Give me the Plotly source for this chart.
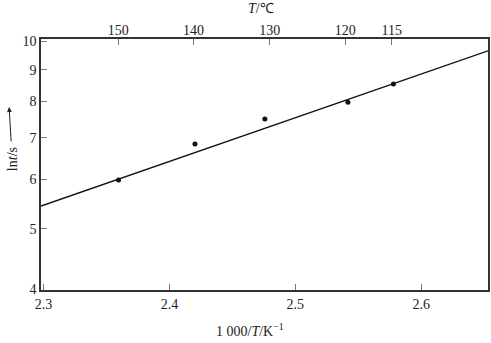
import math
import plotly.graph_objects as go

# Data
x_pts = [2.3596, 2.4203, 2.4758, 2.5417, 2.5779]   # 1000/T (K^-1)
y_pts = [5.99, 6.84, 7.50, 7.98, 8.54]             # t/s (log axis, labelled ln t)
fit_x = [2.298, 2.653]
fit_y = [5.44, 9.65]

bottom_ticks = [2.3, 2.4, 2.5, 2.6]
bottom_labels = ["2.3", "2.4", "2.5", "2.6"]
left_ticks = [4, 5, 6, 7, 8, 9, 10]
left_labels = ["4", "5", "6", "7", "8", "9", "10"]
top_tick_vals = [2.3594, 2.4192, 2.4797, 2.5396, 2.5766]
top_tick_labels = ["150", "140", "130", "120", "115"]

W, H = 491, 343
ML, MR, MT, MB = 41, 1, 39, 53
PW, PH = W - ML - MR, H - MT - MB

def px(xp):
    return (xp - ML) / PW

def py(yp):
    return (H - MB - yp) / PH

FONT = "Times New Roman, Liberation Serif, serif"
xr = [2.298, 2.653]

fig = go.Figure()
fig.add_trace(go.Scatter(x=fit_x, y=fit_y, mode="lines",
                         line=dict(color="#111", width=1.4), showlegend=False,
                         cliponaxis=True))
fig.add_trace(go.Scatter(x=x_pts, y=y_pts, mode="markers",
                         marker=dict(color="#111", size=5), showlegend=False))
# dummy trace for top axis
fig.add_trace(go.Scatter(x=xr, y=[5, 5], xaxis="x2", mode="lines",
                         line=dict(width=0), showlegend=False, hoverinfo="skip"))

axis_common = dict(showgrid=False, zeroline=False, ticks="inside", ticklen=6,
                   tickcolor="#777", tickwidth=1,
                   tickfont=dict(family=FONT, size=14, color="#222"))

fig.update_layout(
    width=W, height=H,
    margin=dict(l=ML, r=MR, t=MT, b=MB),
    paper_bgcolor="white", plot_bgcolor="white",
    font=dict(family=FONT, size=14, color="#222"),
    xaxis=dict(range=xr, tickvals=bottom_ticks, ticktext=bottom_labels,
               showline=True, linecolor="#333", linewidth=1.5, mirror=True,
               **axis_common),
    xaxis2=dict(range=xr, overlaying="x", side="top", anchor="y",
                tickvals=top_tick_vals, ticktext=top_tick_labels,
                showline=False, **axis_common),
    yaxis=dict(type="log", range=[math.log10(3.99), math.log10(10.08)],
               tickvals=left_ticks, ticktext=left_labels,
               showline=True, linecolor="#333", linewidth=1.5, mirror=True,
               **axis_common),
    annotations=[
        dict(text="1 000/<i>T</i>/K<sup>−1</sup>", xref="paper", yref="paper",
             x=px(251), y=py(330), showarrow=False, xanchor="center", yanchor="middle",
             font=dict(family=FONT, size=14, color="#222")),
        dict(text="<i>T</i>/℃", xref="paper", yref="paper",
             x=px(262), y=py(8), showarrow=False, xanchor="center", yanchor="middle",
             font=dict(family=FONT, size=14, color="#222")),
        dict(text="ln<i>t</i>/s", xref="paper", yref="paper", textangle=-90,
             x=px(9), y=py(107), showarrow=True, ax=3, ay=52,
             arrowhead=2, arrowsize=1, arrowwidth=1, arrowcolor="#222",
             standoff=0, startstandoff=4,
             font=dict(family=FONT, size=14, color="#222")),
    ],
)

fig.write_html("out.html")
